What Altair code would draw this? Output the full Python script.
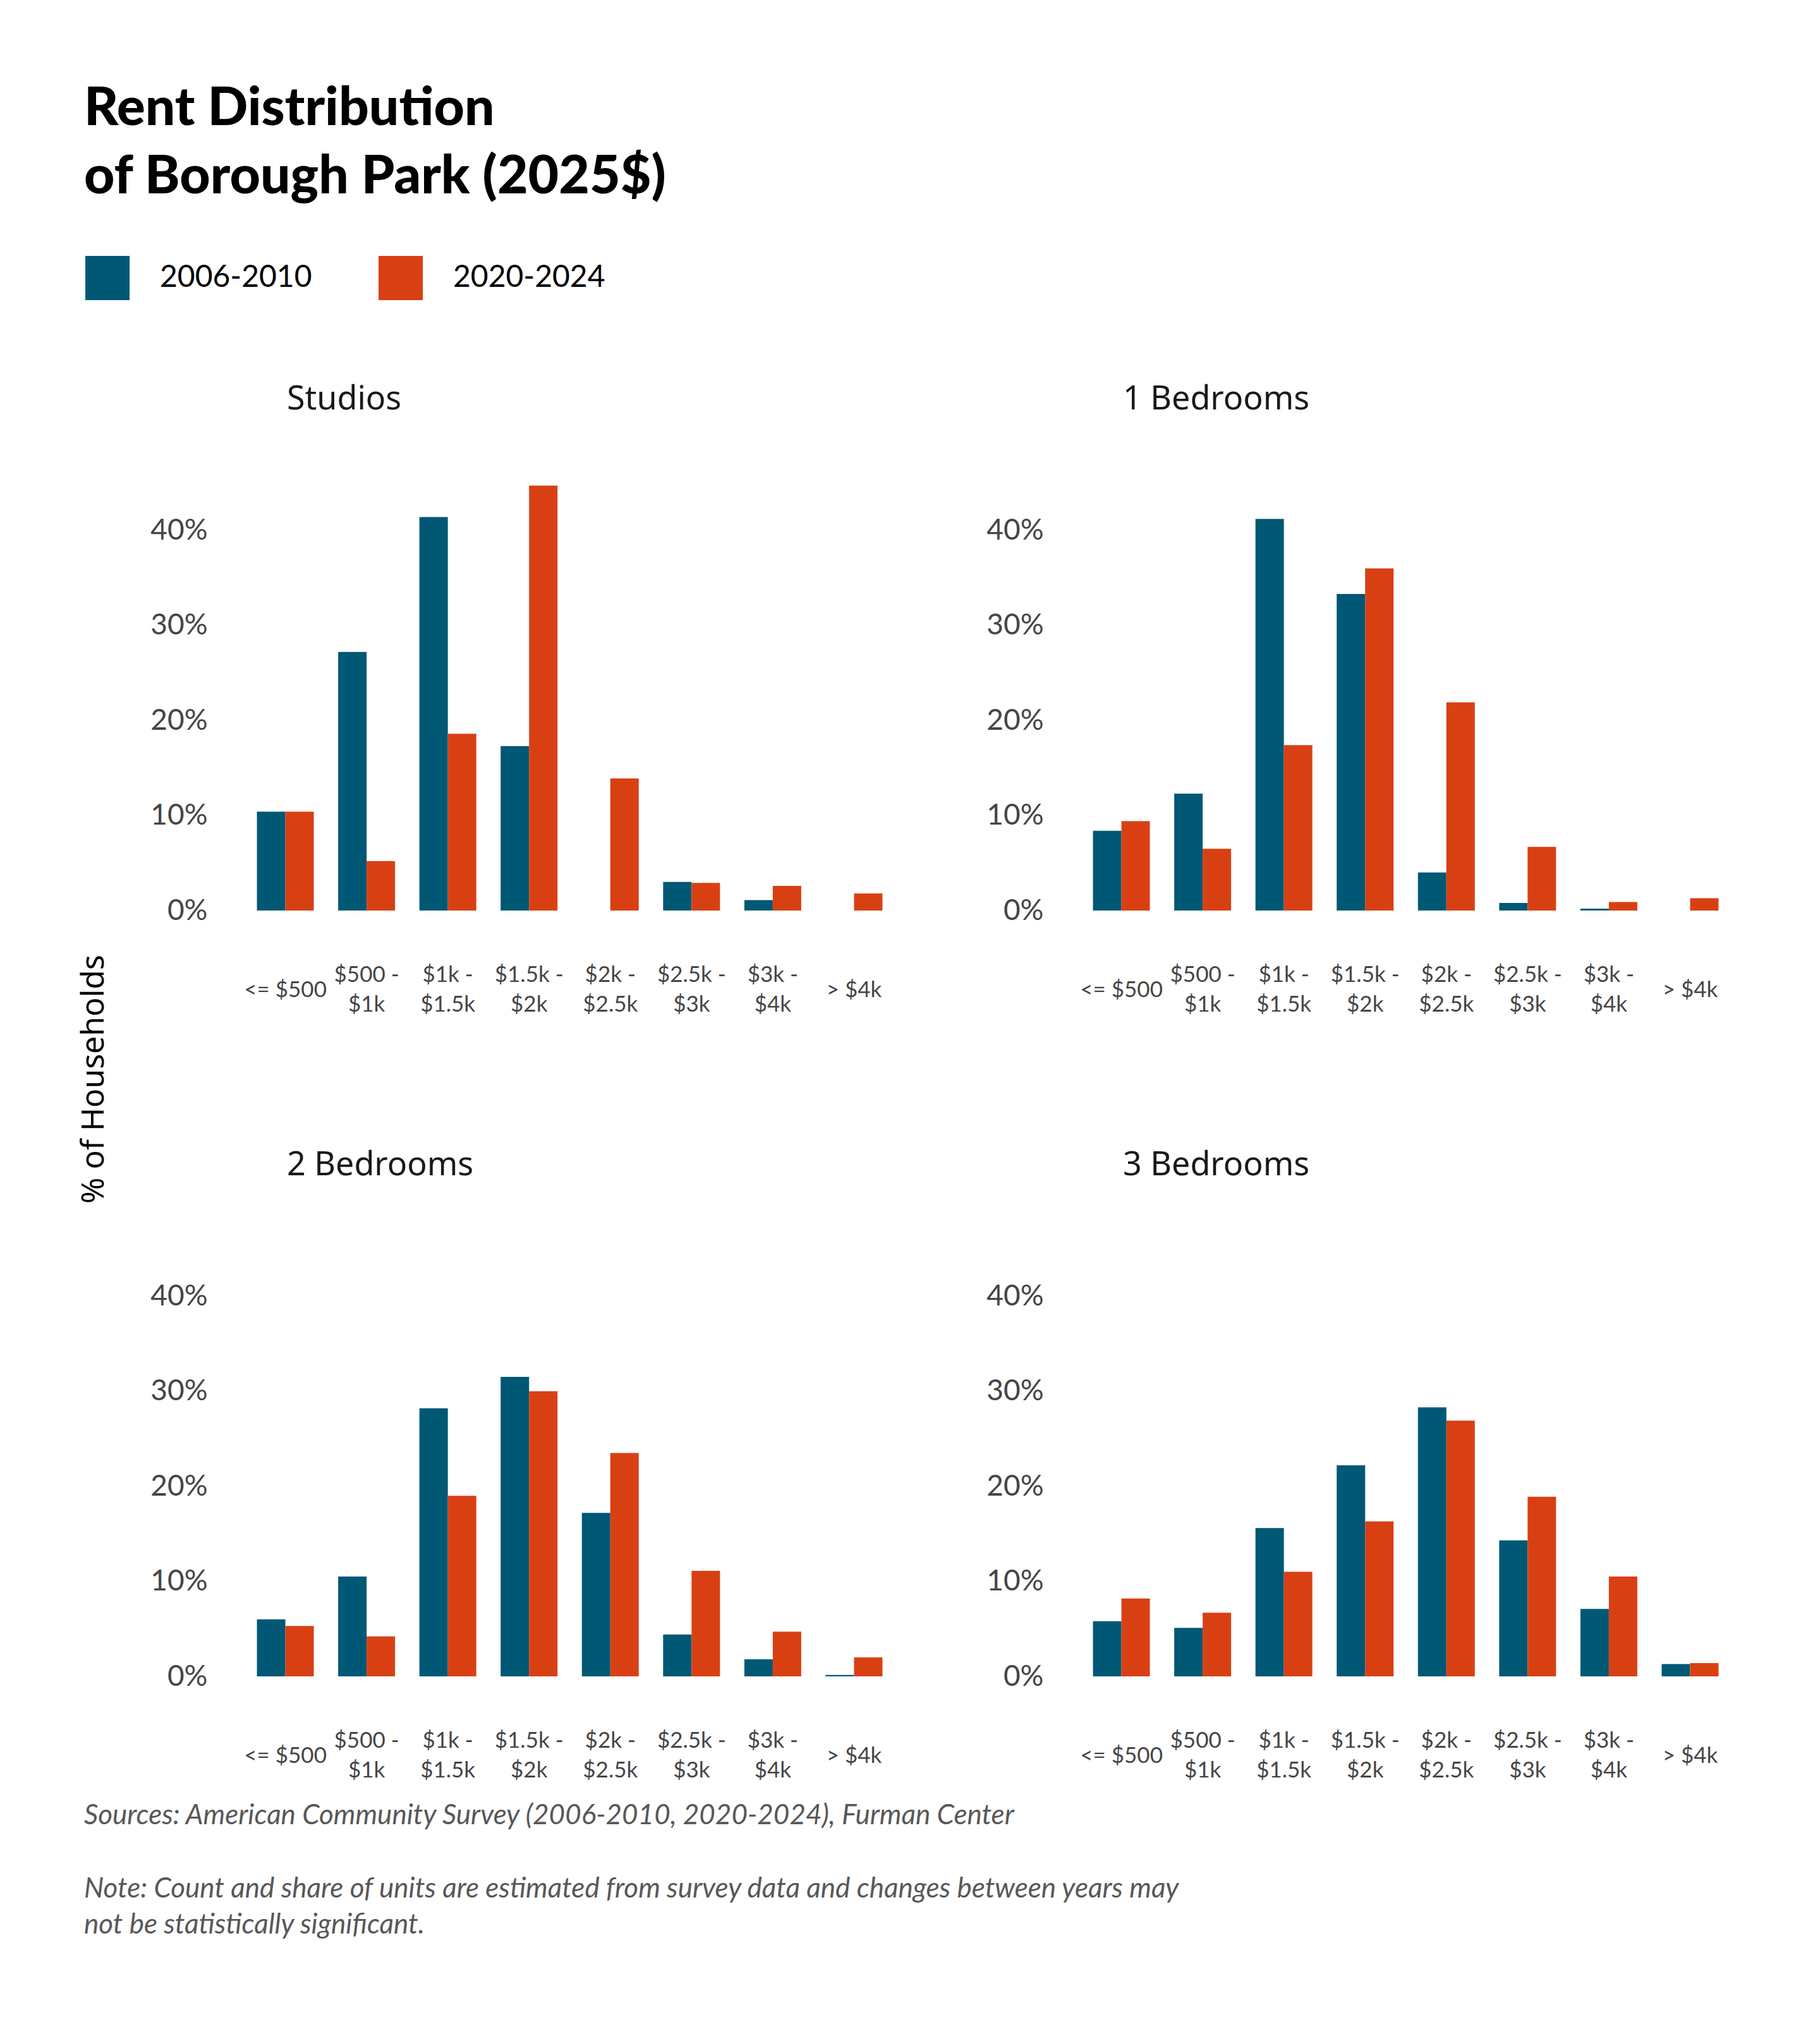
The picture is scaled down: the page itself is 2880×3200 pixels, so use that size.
import altair as alt
import pandas as pd

bins = ["<= $500", "$500 - $1k", "$1k - $1.5k", "$1.5k - $2k", "$2k - $2.5k",
        "$2.5k - $3k", "$3k - $4k", "> $4k"]
periods = ["2006-2010", "2020-2024"]
panel_names = ["Studios", "1 Bedrooms", "2 Bedrooms", "3 Bedrooms"]

studios_2006 = [10.4, 27.2, 41.4, 17.3, 0.0, 3.0, 1.1, 0.0]
studios_2020 = [10.4, 5.2, 18.6, 44.7, 13.9, 2.9, 2.6, 1.8]
one_bed_2006 = [8.4, 12.3, 41.2, 33.3, 4.0, 0.8, 0.2, 0.0]
one_bed_2020 = [9.4, 6.5, 17.4, 36.0, 21.9, 6.7, 0.9, 1.3]
two_bed_2006 = [6.0, 10.5, 28.2, 31.5, 17.2, 4.4, 1.8, 0.15]
two_bed_2020 = [5.3, 4.2, 19.0, 30.0, 23.5, 11.1, 4.7, 2.0]
three_bed_2006 = [5.8, 5.1, 15.6, 22.2, 28.3, 14.3, 7.1, 1.3]
three_bed_2020 = [8.2, 6.7, 11.0, 16.3, 26.9, 18.9, 10.5, 1.4]

series = {
    "Studios": (studios_2006, studios_2020),
    "1 Bedrooms": (one_bed_2006, one_bed_2020),
    "2 Bedrooms": (two_bed_2006, two_bed_2020),
    "3 Bedrooms": (three_bed_2006, three_bed_2020),
}

title_lines = ["Rent Distribution", "of Borough Park (2025$)"]
y_title = "% of Households"
sources_text = "Sources: American Community Survey (2006-2010, 2020-2024), Furman Center"
note_text = ("Note: Count and share of units are estimated from survey data and changes between years may\n"
             "not be statistically significant.")

BLUE = "#005875"
ORANGE = "#D84014"
GRAY = "#454545"

rows = []
for name in panel_names:
    a, b = series[name]
    for i, cat in enumerate(bins):
        rows.append({"type": name, "bin": cat, "period": periods[0], "pct": a[i]})
        rows.append({"type": name, "bin": cat, "period": periods[1], "pct": b[i]})
df = pd.DataFrame(rows)

label_expr = ("indexof(datum.label, ' - ') > 0 ? "
              "[substring(datum.label, 0, indexof(datum.label, ' - ') + 2), "
              "substring(datum.label, indexof(datum.label, ' - ') + 3)] : datum.label")

PW = 1067
PH = 677


def panel(name):
    return alt.Chart(df[df["type"] == name]).mark_bar().encode(
        x=alt.X("bin:N", sort=bins,
                scale=alt.Scale(paddingInner=0.3, paddingOuter=0.3),
                axis=alt.Axis(title=None, labelExpr=label_expr, labelAngle=0,
                              labelFontSize=35, labelFont="Lato", labelColor=GRAY,
                              labelBaseline={"condition": {"test": "indexof(datum.label, ' - ') > 0",
                                                           "value": "line-bottom"},
                                             "value": "middle"},
                              labelLineHeight=47,
                              labelPadding=125, domain=False, ticks=False, tickSize=0,
                              labelOverlap=False, labelLimit=400)),
        xOffset=alt.XOffset("period:N", sort=periods),
        y=alt.Y("pct:Q", scale=alt.Scale(domain=[0, 45], nice=False),
                axis=alt.Axis(title=None, values=[0, 10, 20, 30, 40],
                              labelExpr="datum.value + '%'", grid=False,
                              domain=False, ticks=False, tickSize=0,
                              labelPadding=40, labelFontSize=46, labelFont="Lato",
                              labelColor=GRAY)),
        color=alt.Color("period:N",
                        scale=alt.Scale(domain=periods, range=[BLUE, ORANGE]),
                        legend=alt.Legend(orient="none", legendX=11, legendY=-359,
                                          direction="horizontal", title=None,
                                          symbolType="square", symbolSize=4900,
                                          symbolStrokeWidth=0, symbolOpacity=1,
                                          labelFontSize=48, labelFont="Lato",
                                          labelColor="black", labelOffset=48,
                                          labelLimit=0, columnPadding=105)),
    ).properties(
        width=PW, height=PH,
        title=alt.TitleParams(name, anchor="start", frame="group", dx=86,
                              offset=105, fontSize=52, font="Noto Sans",
                              fontWeight="normal", color="#1a1a1a"),
    )


row1 = alt.hconcat(panel("Studios"), panel("1 Bedrooms"), spacing=125)
row2 = alt.hconcat(panel("2 Bedrooms"), panel("3 Bedrooms"), spacing=125)
grid = alt.vconcat(row1, row2, spacing=211)

ylab = alt.Chart(pd.DataFrame({"t": [y_title]})).mark_text(
    angle=270, fontSize=50, font="Noto Sans", color="black",
    align="center", baseline="middle"
).encode(text="t:N", x=alt.value(25), y=alt.value(944)).properties(width=50, height=1200)

body = alt.hconcat(ylab, grid, spacing=63)

src = alt.Chart(pd.DataFrame({"t": [sources_text]})).mark_text(
    align="left", baseline="middle", fontSize=44, font="Lato", fontStyle="italic",
    color="#585858"
).encode(text="t:N", x=alt.value(9), y=alt.value(55))

note = alt.Chart(pd.DataFrame({"t": [note_text]})).mark_text(
    align="left", baseline="middle", fontSize=44, font="Lato", fontStyle="italic",
    color="#585858", lineBreak="\n", lineHeight=57
).encode(text="t:N", x=alt.value(9), y=alt.value(171))

notes = alt.layer(src, note).properties(width=1800, height=260)

chart = alt.vconcat(body, notes, spacing=0).properties(
    padding={"left": 116, "top": 123, "right": 10, "bottom": 10},
    background="white",
    title=alt.TitleParams(title_lines, anchor="start", frame="bounds", dx=9,
                          fontSize=84, font="Lato", fontWeight=900,
                          lineHeight=108, offset=81, color="black"),
).configure_view(stroke=None, strokeWidth=0)

chart.save("out.html", embed_options={"renderer": "svg", "actions": False})
